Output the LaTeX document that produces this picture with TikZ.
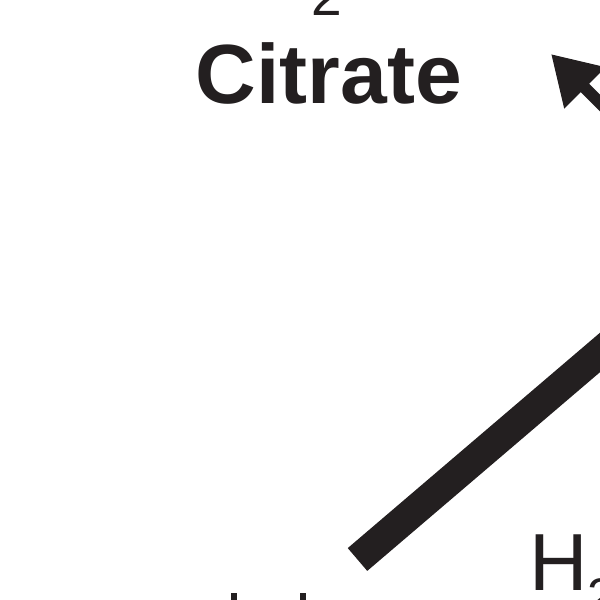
\documentclass[tikz,border=0pt]{standalone}
\usepackage{fontspec}
\setmainfont{Liberation Sans}
\usetikzlibrary{arrows.meta}
\definecolor{ink}{HTML}{231F20}
\tikzset{
  cpd/.style={font=\fontsize{84}{84}\selectfont\bfseries, text=ink, inner sep=0pt, anchor=base},
  mol/.style={font=\fontsize{81}{81}\selectfont, text=ink, inner sep=0pt, anchor=base west},
  subs/.style={font=\fontsize{55}{55}\selectfont, text=ink, inner sep=0pt, anchor=base},
  rxn/.style={draw=ink, line width=30pt, line cap=butt},
  side/.style={draw=ink, line width=12pt, -{Triangle[length=48pt, width=55pt]}}
}

\begin{document}
\begin{tikzpicture}[x=1pt, y=-1pt]
  \useasboundingbox (0,0) rectangle (600,600);
  \node[subs] (two) at (327,15) {2};
  \node[cpd] (cit) at (329,103) {Citrate};
  \node[mol] (water) at (529,590) {H\raisebox{-23pt}{\fontsize{50}{50}\selectfont 2}O};
  \coordinate (rxnA) at (357.5,559.5);
  \coordinate (rxnB) at (720,250);
  \draw[rxn] (rxnA) -- (rxnB);
  \coordinate (sideA) at (660,163);
  \coordinate (sideB) at (551,54);
  \draw[side] (sideA) -- (sideB);
  % tops of the label below
  \fill[ink] (231,593) rectangle (237,600);
  \fill[ink] (300,593) rectangle (306,600);
\end{tikzpicture}
\end{document}
